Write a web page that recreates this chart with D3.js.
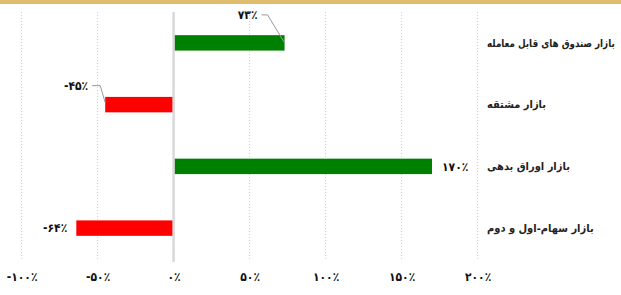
<!DOCTYPE html>
<html><head><meta charset="utf-8">
<script src="https://cdn.jsdelivr.net/npm/d3@7"></script>
<style>
html,body{margin:0;padding:0;background:#fff;}
svg{display:block;font-family:"DejaVu Sans Condensed","DejaVu Sans",sans-serif;}
</style></head>
<body><svg id="c" width="621" height="295"></svg>
<script>
const categories = ["بازار صندوق های قابل معامله","بازار مشتقه","بازار اوراق بدهی","بازار سهام-اول و دوم"];
const values = [73, -45, 170, -64];
const tickValues = [-100, -50, 0, 50, 100, 150, 200];
const colorsPos = "#008000", colorsNeg = "#ff0000";

const fa = s => String(s).replace(/\d/g, d => "۰۱۲۳۴۵۶۷۸۹"[d]);
const pct = v => (v < 0 ? "-" : "") + fa(Math.abs(v)) + "٪";

const svg = d3.select("#c");
svg.append("rect").attr("x",0).attr("y",0).attr("width",621).attr("height",4).attr("fill","#e0bd6d");

const x = d3.scaleLinear().domain([-100, 200]).range([21.6, 477.6]);
const y = d3.scaleBand().domain(categories).range([12, 259]).paddingInner(0.75).paddingOuter(0.375);

// gridlines
const grid = svg.append("g");
grid.selectAll("line").data(tickValues.filter(t => t !== 0)).join("line")
  .attr("x1", d => x(d)).attr("x2", d => x(d)).attr("y1", 12).attr("y2", 260)
  .attr("stroke", "#cfcfcf").attr("stroke-width", 1).attr("stroke-dasharray", "1,2");

// axis labels
const ax = d3.axisBottom(x).tickValues(tickValues).tickSize(0).tickPadding(0).tickFormat(pct);
const axg = svg.append("g").attr("transform", "translate(0,272)").call(ax);
axg.select(".domain").remove();
axg.selectAll("text").attr("font-size", 12).attr("font-weight", "bold").attr("fill", "#111")
  .attr("font-family", "DejaVu Sans Condensed, DejaVu Sans").attr("direction", "ltr");

// bars
const rows = categories.map((c, i) => ({c, v: values[i], i}));
svg.append("g").selectAll("rect").data(rows).join("rect")
  .attr("x", d => x(Math.min(0, d.v))).attr("width", d => Math.abs(x(d.v) - x(0)))
  .attr("y", d => y(d.c)).attr("height", y.bandwidth())
  .attr("fill", d => d.v >= 0 ? colorsPos : colorsNeg);

// zero line
svg.append("line").attr("x1", x(0)).attr("x2", x(0)).attr("y1", 12).attr("y2", 262)
  .attr("stroke", "#d9d9d9").attr("stroke-width", 2.5);

// category labels
const cl = svg.append("g").selectAll("text").data(rows).join("text")
  .attr("x", 0).attr("y", 0).attr("dy", "0.35em")
  .attr("text-anchor", "start").attr("font-size", 11).attr("font-weight", "bold")
  .attr("fill", "#222").text(d => d.c);
cl.each(function(d) {
  const w = this.getComputedTextLength();
  const k = w > 128 ? 128 / w : 1;
  d3.select(this).attr("transform", `translate(487,${y(d.c) + y.bandwidth()/2}) scale(${k},1)`);
});

// value labels
const lab = svg.append("g");
rows.forEach(d => {
  const cy = y(d.c) + y.bandwidth()/2;
  const xe = x(d.v);
  const callout = d.i < 2;
  if (callout) {
    const pos = d.v >= 0;
    const ly = pos ? cy - 28 : cy - 19;
    const a = pos ? 23 : 13, b = pos ? 17 : 5, t = pos ? 27 : 17;
    lab.append("polyline")
      .attr("points", [[xe - a, ly], [xe - b, ly], [xe, cy + (pos ? 0 : -2)]].map(p => p.join(",")).join(" "))
      .attr("fill", "none").attr("stroke", "#999").attr("stroke-width", 1);
    lab.append("text").attr("x", xe - t).attr("y", ly).attr("dy", "0.35em")
      .attr("text-anchor", "end").attr("direction", "ltr")
      .attr("font-size", 12).attr("font-weight", "bold").attr("fill", "#111").text(pct(d.v));
  } else {
    lab.append("text").attr("x", d.v >= 0 ? xe + 10 : xe - 9).attr("y", cy).attr("dy", "0.35em")
      .attr("text-anchor", d.v >= 0 ? "start" : "end").attr("direction", "ltr")
      .attr("font-size", 12).attr("font-weight", "bold").attr("fill", "#111").text(pct(d.v));
  }
});
</script></body></html>
